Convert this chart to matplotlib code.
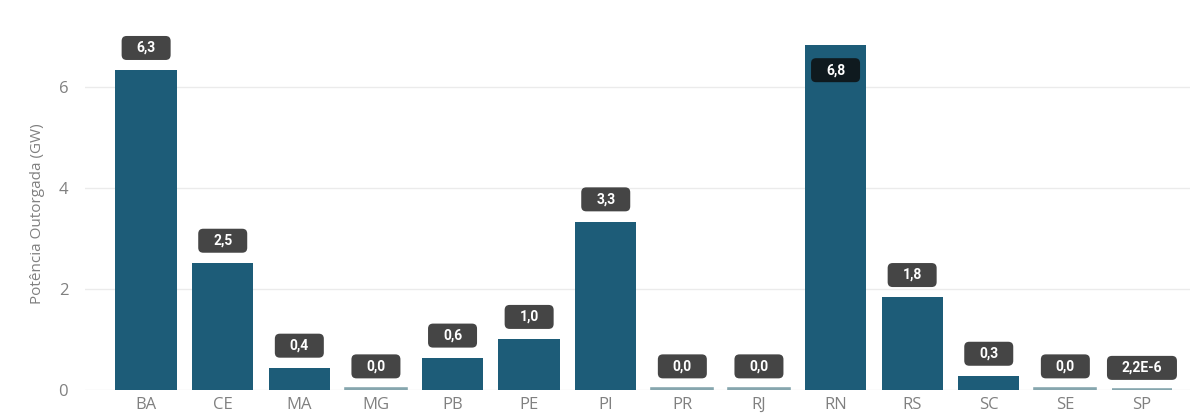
import numpy as np
import matplotlib.pyplot as plt
import matplotlib.transforms as mtransforms
from matplotlib.patches import FancyBboxPatch

# potencia outorgada por estado (GW)
estados = ['BA', 'CE', 'MA', 'MG', 'PB', 'PE', 'PI', 'PR', 'RJ', 'RN', 'RS', 'SC', 'SE', 'SP']
potencia = [6.34, 2.52, 0.44, 0.03, 0.64, 1.01, 3.34, 0.03, 0.03, 6.84, 1.84, 0.28, 0.03, 2.2e-6]
rotulos = ['6,3', '2,5', '0,4', '0,0', '0,6', '1,0', '3,3', '0,0', '0,0', '6,8', '1,8', '0,3', '0,0', '2,2E-6']

cor_barra = '#1d5c78'
cor_fina = '#86a6ae'

fig = plt.figure(figsize=(11.95, 4.19), dpi=100)
ax = fig.add_axes([0.071, 0.069, 0.925, 0.843])

x = np.arange(len(estados))
for xi, v in zip(x, potencia):
    if v < 0.1:
        # barras quase nulas aparecem como um traço claro
        ax.bar(xi, v, width=0.78, color=cor_fina, edgecolor=cor_fina, linewidth=2.6, zorder=3)
    else:
        ax.bar(xi, v, width=0.8, color=cor_barra, zorder=3)

ax.set_xlim(-0.8, 13.63)
ax.set_ylim(0, 7)
ax.set_yticks([0, 2, 4, 6])
ax.set_xticks(x)
ax.set_xticklabels(estados)
ax.grid(axis='y', color='#ebebeb', linewidth=1, zorder=0)
for s in ax.spines.values():
    s.set_visible(False)
ax.tick_params(axis='x', length=0, labelsize=12, colors='#808080', pad=5)
ax.tick_params(axis='y', length=0, labelsize=12, colors='#808080', pad=12)
for t in ax.get_xticklabels() + ax.get_yticklabels():
    t.set_fontfamily('Open Sans')
ax.set_ylabel('Potência Outorgada (GW)', fontsize=11, color='#808080',
              family='Open Sans', labelpad=10)

# rótulos de valor em caixas arredondadas (tamanho em pixels)
for xi, v, r in zip(x, potencia, rotulos):
    if v > 6.6:
        y = v - 0.5
        fundo = '#0f1a1f'
    else:
        y = v + 0.44
        fundo = '#454545'
    w = (28 + 7 * len(r)) / 100
    h = 0.24
    tr = fig.dpi_scale_trans + mtransforms.ScaledTranslation(xi, y, ax.transData)
    caixa = FancyBboxPatch((-w / 2, -h / 2), w, h, boxstyle='round,pad=0,rounding_size=0.05',
                           fc=fundo, ec='none', transform=tr, zorder=5, clip_on=False)
    ax.add_patch(caixa)
    ax.text(xi, y, r, ha='center', va='center', fontsize=10, fontweight='bold',
            color='white', family='Roboto', zorder=6, clip_on=False)

fig.savefig('out.png', dpi=100, facecolor='white')
